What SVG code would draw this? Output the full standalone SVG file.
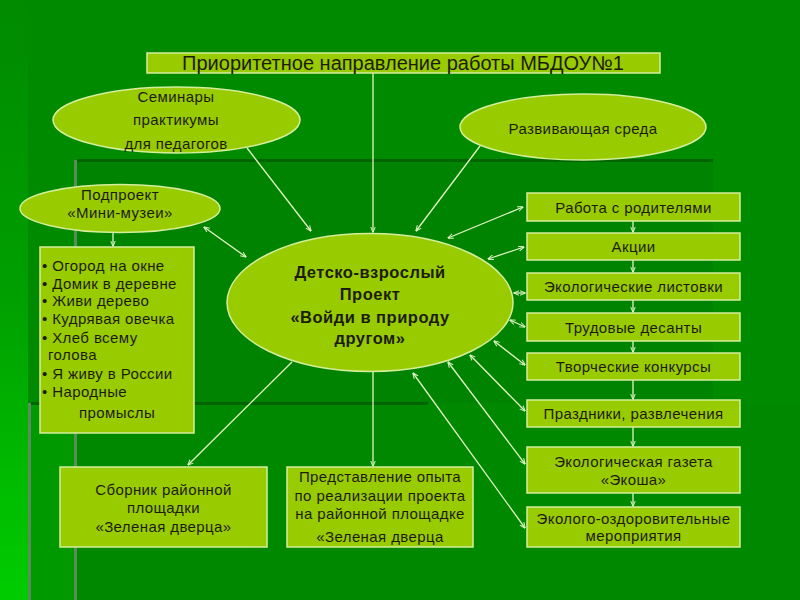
<svg xmlns="http://www.w3.org/2000/svg" width="800" height="600" viewBox="0 0 800 600">
<defs>
<linearGradient id="leftg" x1="0" y1="0" x2="0" y2="1">
<stop offset="0" stop-color="#008a00"/>
<stop offset="0.5" stop-color="#00a000"/>
<stop offset="1" stop-color="#00cc00"/>
</linearGradient>
<marker id="ah" viewBox="0 0 10 10" refX="9" refY="5" markerWidth="6" markerHeight="6" orient="auto-start-reverse" markerUnits="userSpaceOnUse">
<path d="M0,1 L10,5 L0,9" fill="none" stroke="#e2f5c4" stroke-width="1.6"/>
</marker>
<style>
.box{fill:#99cc00;stroke:#d4ee9c;stroke-width:1.5}
.t{font-family:"Liberation Sans",Arial,sans-serif;font-size:15px;letter-spacing:0.4px;fill:#1c1c0c;text-anchor:middle}
.tl{font-family:"Liberation Sans",Arial,sans-serif;font-size:15px;letter-spacing:0.4px;fill:#1c1c0c}
.b{font-weight:bold;font-size:16.5px;letter-spacing:0.5px}
.c{stroke:#e2f5c4;stroke-width:1.3;fill:none}
.one{marker-end:url(#ah)}
.two{marker-start:url(#ah);marker-end:url(#ah)}
</style>
</defs>
<g id="background">
<rect x="0" y="0" width="800" height="600" fill="#008a00"/>
<rect x="75" y="160" width="725" height="440" fill="#008300"/>
<rect x="713" y="160" width="87" height="243" fill="#008a00"/>
<rect x="30" y="403" width="45" height="197" fill="#009a00"/>
<rect x="75" y="403" width="725" height="197" fill="#008800"/>
<rect x="0" y="0" width="28" height="600" fill="url(#leftg)"/>
<rect x="74" y="160" width="3" height="440" fill="#5c8c5c"/>
<rect x="28" y="403" width="3" height="197" fill="#5c8c5c"/>
<rect x="77" y="159" width="636" height="3" fill="#006400"/>
<rect x="31" y="402" width="397" height="3" fill="#006400"/>
</g>
<g id="connectors">
<line class="c one" x1="373" y1="73" x2="373" y2="232"/>
<line class="c one" x1="247" y1="148" x2="311" y2="231"/>
<line class="c one" x1="480" y1="146" x2="416" y2="231"/>
<line class="c one" x1="113" y1="232" x2="113" y2="246"/>
<line class="c two" x1="204" y1="227" x2="246" y2="257"/>
<line class="c two" x1="448" y1="238" x2="523" y2="207"/>
<line class="c two" x1="488" y1="259" x2="524" y2="247"/>
<line class="c two" x1="514" y1="293" x2="525" y2="293"/>
<line class="c two" x1="510" y1="320" x2="525" y2="327"/>
<line class="c two" x1="494" y1="341" x2="525" y2="365"/>
<line class="c two" x1="470" y1="355" x2="525" y2="411"/>
<line class="c two" x1="448" y1="362" x2="525" y2="464"/>
<line class="c two" x1="413" y1="373" x2="525" y2="528"/>
<line class="c one" x1="292" y1="362" x2="188" y2="465"/>
<line class="c one" x1="373" y1="372" x2="373" y2="466"/>
<line class="c one" x1="633" y1="221" x2="633" y2="232"/>
<line class="c one" x1="633" y1="260" x2="633" y2="272"/>
<line class="c one" x1="633" y1="300" x2="633" y2="312"/>
<line class="c one" x1="633" y1="341" x2="633" y2="352"/>
<line class="c one" x1="633" y1="380" x2="633" y2="399"/>
<line class="c one" x1="633" y1="427" x2="633" y2="446"/>
<line class="c one" x1="633" y1="493" x2="633" y2="506"/>
</g>
<g id="title">
<rect class="box" x="147" y="53" width="513" height="20"/>
<text class="t" x="403" y="70" style="font-size:20px;letter-spacing:0">Приоритетное направление работы МБДОУ№1</text>
</g>
<g id="seminars">
<ellipse class="box" cx="176.5" cy="120" rx="123.5" ry="33"/>
<text class="t" x="176" y="102">Семинары</text>
<text class="t" x="176" y="125">практикумы</text>
<text class="t" x="176" y="149">для педагогов</text>
</g>
<g id="environment">
<ellipse class="box" cx="583" cy="127" rx="123" ry="33"/>
<text class="t" x="583" y="134">Развивающая среда</text>
</g>
<g id="minimuseum">
<ellipse class="box" cx="120" cy="208.5" rx="100" ry="24"/>
<text class="t" x="120" y="200">Подпроект</text>
<text class="t" x="120" y="218">«Мини-музеи»</text>
</g>
<g id="list">
<rect class="box" x="40" y="247" width="154" height="186"/>
<text class="tl" x="42" y="271">• Огород на окне</text>
<text class="tl" x="42" y="289">• Домик в деревне</text>
<text class="tl" x="42" y="306">• Живи дерево</text>
<text class="tl" x="42" y="324">• Кудрявая овечка</text>
<text class="tl" x="42" y="343">• Хлеб всему</text>
<text class="tl" x="48" y="360">голова</text>
<text class="tl" x="42" y="379">• Я живу в России</text>
<text class="tl" x="42" y="397">• Народные</text>
<text class="tl" x="79" y="418">промыслы</text>
</g>
<g id="center">
<ellipse class="box" cx="370" cy="302.5" rx="143" ry="69"/>
<text class="t b" x="370" y="278">Детско-взрослый</text>
<text class="t b" x="370" y="300">Проект</text>
<text class="t b" x="370" y="323">«Войди в природу</text>
<text class="t b" x="370" y="344">другом»</text>
</g>
<g id="parents">
<rect class="box" x="527" y="193" width="213" height="28"/>
<text class="t" x="633.5" y="212.5">Работа с родителями</text>
</g>
<g id="actions">
<rect class="box" x="527" y="233" width="213" height="27"/>
<text class="t" x="633.5" y="252">Акции</text>
</g>
<g id="leaflets">
<rect class="box" x="527" y="273" width="213" height="27"/>
<text class="t" x="633.5" y="292">Экологические листовки</text>
</g>
<g id="labour">
<rect class="box" x="527" y="313" width="213" height="28"/>
<text class="t" x="633.5" y="332.5">Трудовые десанты</text>
</g>
<g id="contests">
<rect class="box" x="527" y="353" width="213" height="27"/>
<text class="t" x="633.5" y="372">Творческие конкурсы</text>
</g>
<g id="holidays">
<rect class="box" x="527" y="400" width="213" height="27"/>
<text class="t" x="633.5" y="419">Праздники, развлечения</text>
</g>
<g id="newspaper">
<rect class="box" x="527" y="447" width="213" height="46"/>
<text class="t" x="633.5" y="467">Экологическая газета</text>
<text class="t" x="633.5" y="485">«Экоша»</text>
</g>
<g id="health">
<rect class="box" x="527" y="507" width="213" height="40"/>
<text class="t" x="633.5" y="523.5">Эколого-оздоровительные</text>
<text class="t" x="633.5" y="541">мероприятия</text>
</g>
<g id="collection">
<rect class="box" x="60" y="467" width="207" height="80"/>
<text class="t" x="163.5" y="495">Сборник районной</text>
<text class="t" x="163.5" y="513">площадки</text>
<text class="t" x="163.5" y="532">«Зеленая дверца»</text>
</g>
<g id="presentation">
<rect class="box" x="287" y="467" width="186" height="80"/>
<text class="t" x="380" y="482">Представление опыта</text>
<text class="t" x="380" y="500.5">по реализации проекта</text>
<text class="t" x="380" y="519">на районной площадке</text>
<text class="t" x="380" y="541.5">«Зеленая дверца</text>
</g>
</svg>
